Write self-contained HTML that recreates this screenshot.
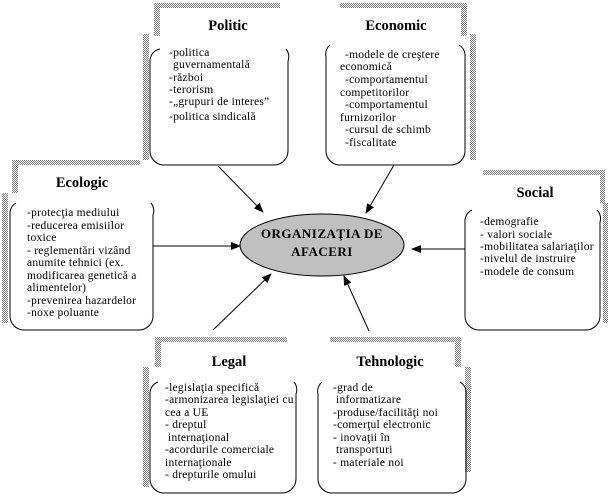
<!DOCTYPE html>
<html><head><meta charset="utf-8"><style>
html,body{margin:0;padding:0;background:#fff;}
svg{display:block;}
text{font-family:"Liberation Serif",serif;font-size:11.5px;letter-spacing:0.25px;fill:#000;}
.t{font-weight:bold;font-size:14.5px;text-anchor:middle;letter-spacing:0;}
.c{font-weight:bold;font-size:13px;text-anchor:middle;letter-spacing:0.5px;}
</style></head><body>
<svg width="610" height="504" viewBox="0 0 610 504" xmlns="http://www.w3.org/2000/svg">
<defs>
<pattern id="st" width="2" height="2" patternUnits="userSpaceOnUse">
<rect width="2" height="2" fill="#fff"/><rect width="1" height="1" fill="#777"/><rect x="1" y="1" width="1" height="1" fill="#777"/>
</pattern>
<marker id="ar" markerWidth="10" markerHeight="8" refX="9" refY="4" orient="auto" markerUnits="userSpaceOnUse">
<path d="M0,0 L10,4 L0,8 Z" fill="#000"/>
</marker>
</defs>

<!-- Politic -->
<g fill="url(#st)">
<rect x="154" y="3" width="126" height="5"/><rect x="154" y="3" width="6" height="33"/><rect x="143" y="34" width="6" height="126"/>
</g>
<path d="M160,49 A12,12 0 0 0 150,61 L150,151 A14,14 0 0 0 164,165 L274,165 A14,14 0 0 0 288,151 L288,61 A12,12 0 0 0 286,49" fill="none" stroke="#000"/>
<text class="t" x="228" y="30">Politic</text>
<text x="169" y="56">-politica</text>
<text x="173" y="68">guvernamentală</text>
<text x="169" y="81">-război</text>
<text x="169" y="93">-terorism</text>
<text x="169" y="105">-„grupuri de interes”</text>
<text x="169" y="120">-politica sindicală</text>

<!-- Economic -->
<g fill="url(#st)">
<rect x="340" y="3" width="127" height="5"/><rect x="461" y="3" width="6" height="33"/><rect x="470" y="34" width="6" height="126"/>
</g>
<path d="M330,45 A12,12 0 0 0 326,57 L326,151 A14,14 0 0 0 340,165 L451,165 A14,14 0 0 0 465,151 L465,57 A12,12 0 0 0 459,45" fill="none" stroke="#000"/>
<text class="t" x="396" y="30">Economic</text>
<text x="345" y="58">-modele de creştere</text>
<text x="340" y="70">economică</text>
<text x="345" y="83">-comportamentul</text>
<text x="340" y="96">competitorilor</text>
<text x="345" y="108">-comportamentul</text>
<text x="340" y="121">furnizorilor</text>
<text x="345" y="133">-cursul de schimb</text>
<text x="345" y="146">-fiscalitate</text>

<!-- Ecologic -->
<g fill="url(#st)">
<rect x="12" y="160" width="128" height="5"/><rect x="12" y="160" width="6" height="33"/><rect x="2" y="193" width="6" height="130"/>
</g>
<path d="M16,203 A12,12 0 0 0 10,215 L10,316 A14,14 0 0 0 24,330 L139,330 A14,14 0 0 0 153,316 L153,215 A12,12 0 0 0 151,203" fill="none" stroke="#000"/>
<text class="t" x="82" y="187">Ecologic</text>
<text x="27" y="216">-protecţia mediului</text>
<text x="27" y="229">-reducerea emisiilor</text>
<text x="27" y="241">toxice</text>
<text x="27" y="254">-  reglementări vizând</text>
<text x="27" y="266">anumite tehnici (ex.</text>
<text x="27" y="279">modificarea genetică a</text>
<text x="27" y="291">alimentelor)</text>
<text x="27" y="304">-prevenirea hazardelor</text>
<text x="27" y="316">-noxe poluante</text>

<!-- Social -->
<g fill="url(#st)">
<rect x="483" y="170" width="122" height="5"/><rect x="600" y="170" width="5" height="33"/><rect x="603" y="203" width="5" height="120"/>
</g>
<path d="M472,210 A12,12 0 0 0 465,222 L465,316 A14,14 0 0 0 479,330 L586,330 A14,14 0 0 0 600,316 L600,222 A12,12 0 0 0 597,210" fill="none" stroke="#000"/>
<text class="t" x="535" y="197">Social</text>
<text x="480" y="225">-demografie</text>
<text x="480" y="238">-  valori sociale</text>
<text x="480" y="250">-mobilitatea salariaţilor</text>
<text x="480" y="262">-nivelul de instruire</text>
<text x="480" y="275">-modele de consum</text>

<!-- Legal -->
<g fill="url(#st)">
<rect x="155" y="337" width="132" height="5"/><rect x="155" y="337" width="6" height="30"/><rect x="143" y="367" width="6" height="120"/>
</g>
<path d="M158,382 A12,12 0 0 0 150,394 L150,479 A14,14 0 0 0 164,493 L282,493 A14,14 0 0 0 296,479 L296,394 A12,12 0 0 0 294,382" fill="none" stroke="#000"/>
<text class="t" x="229" y="366">Legal</text>
<text x="165" y="391">-legislaţia specifică</text>
<text x="165" y="403">-armonizarea legislaţiei cu</text>
<text x="165" y="416">cea a UE</text>
<text x="165" y="428">-  dreptul</text>
<text x="168" y="441">internaţional</text>
<text x="165" y="453">-acordurile comerciale</text>
<text x="165" y="466">internaţionale</text>
<text x="165" y="478">-  drepturile omului</text>

<!-- Tehnologic -->
<g fill="url(#st)">
<rect x="330" y="337" width="127" height="5"/><rect x="455" y="337" width="6" height="30"/><rect x="465" y="367" width="6" height="105"/>
</g>
<path d="M322,382 A12,12 0 0 0 318,394 L318,479 A14,14 0 0 0 332,493 L452,493 A14,14 0 0 0 466,479 L466,394 A12,12 0 0 0 460,382" fill="none" stroke="#000"/>
<text class="t" x="390" y="366">Tehnologic</text>
<text x="333" y="391">-grad de</text>
<text x="336" y="403">informatizare</text>
<text x="333" y="416">-produse/facilităţi noi</text>
<text x="333" y="428">-comerţul electronic</text>
<text x="333" y="441">-  inovaţii în</text>
<text x="336" y="453">transporturi</text>
<text x="333" y="466">-  materiale noi</text>

<!-- arrows -->
<g stroke="#000" stroke-width="1" marker-end="url(#ar)">
<line x1="218" y1="166" x2="263" y2="212"/>
<line x1="394" y1="165" x2="366" y2="213"/>
<line x1="153" y1="246" x2="240" y2="246"/>
<line x1="465" y1="249" x2="412" y2="249"/>
<line x1="213" y1="330" x2="271" y2="274"/>
<line x1="369" y1="331" x2="344" y2="276"/>
</g>

<ellipse cx="322" cy="245" rx="82" ry="31" fill="#c0c0c0" stroke="#000"/>
<text class="c" x="322" y="238">ORGANIZAŢIA DE</text>
<text class="c" x="322" y="256">AFACERI</text>
</svg>
</body></html>
